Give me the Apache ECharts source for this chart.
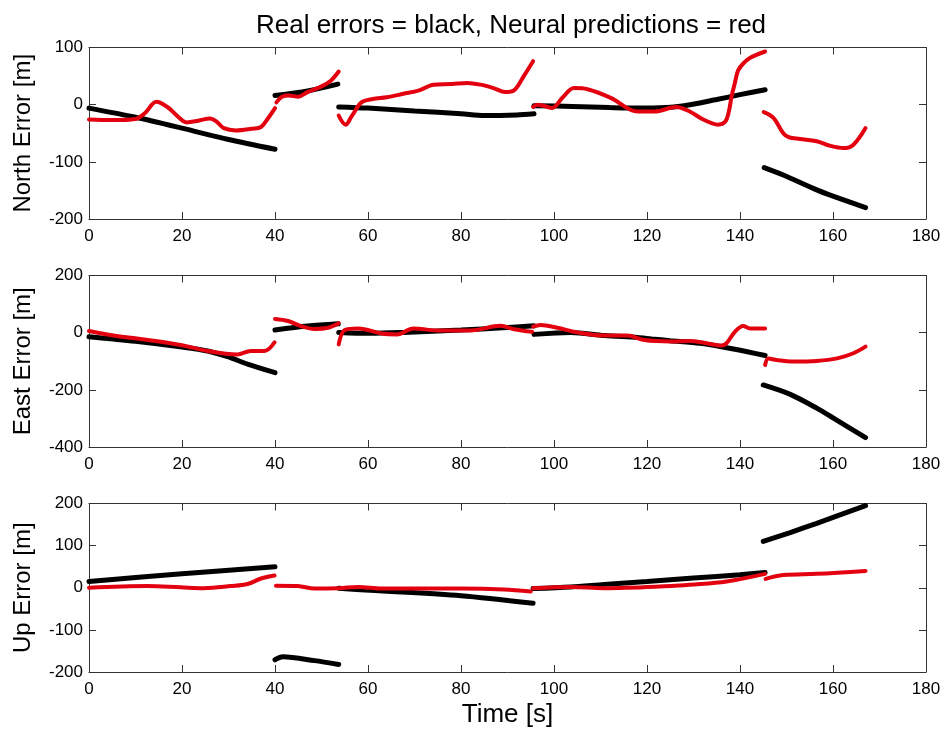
<!DOCTYPE html>
<html>
<head>
<meta charset="utf-8">
<script src="https://cdn.jsdelivr.net/npm/echarts@6/dist/echarts.min.js"></script>
<style>html,body{margin:0;padding:0;background:#fff}#c{width:944px;height:729px}</style>
</head>
<body>
<div id="c"></div>
<script>
// ---- data: each array is a list of segments, each segment a list of [time, value] ----
var titleText = 'Real errors = black, Neural predictions = red';
var panelNames = ['North Error [m]', 'East Error [m]', 'Up Error [m]'];
var xTicks = [0, 20, 40, 60, 80, 100, 120, 140, 160, 180];
var yRanges = [[-200, 100, 100], [-400, 200, 200], [-200, 200, 100]];

var northReal = [
  [[0,-6],[10,-22],[20,-41],[30,-61],[40,-78]],
  [[40,16],[47,24],[53.5,36]],
  [[53.7,-4],[60,-6],[70,-11],[80,-16],[85,-19],[92,-18],[95.7,-16]],
  [[95.7,-2],[104,-3],[112,-5],[118,-6],[124,-5],[128,-2],[135,9],[140,17.5],[145.4,26]],
  [[145.2,-110],[149.3,-123],[156.5,-149],[160,-160],[167,-180]]
];
var northPred = [
  [[0,-26],[5,-27],[10,-25],[12,-15],[14.5,5],[17,-5],[19,-20],[21,-31],[23.5,-28],[26,-24],[27.5,-30],[29,-41],[31.6,-45],[35,-42],[37,-39],[38.4,-25],[40,-6]],
  [[40.3,4],[41.5,14],[43,16],[45,14],[47,22],[50,32],[52,42],[53.7,58]],
  [[53.7,-19],[55.2,-35],[56.5,-20],[58.6,4],[61,10],[64,13],[67.6,19],[71,25],[74.1,35],[78,36],[81.3,38],[84.2,35],[87,29],[89.5,22],[91.4,25],[93.5,50],[95.5,76]],
  [[95.5,-4],[96.4,0],[97.8,-2],[99.6,-6],[101.8,12],[104.3,29],[107.2,27],[112.2,12],[118,-12],[121.6,-12],[126.3,-4],[129.2,-12],[132.1,-26],[135.3,-35],[136.8,-30],[137.6,-12],[138.2,15],[138.9,38],[139.6,60],[140.7,72],[142.2,82],[145.4,93]],
  [[145.1,-13],[147.2,-23],[149.3,-50],[150.5,-57],[152.9,-60],[156.5,-64],[159.4,-72],[162.3,-76],[164.4,-70],[167,-41]]
];
var eastReal = [
  [[0,-14],[10,-30],[20,-50],[25.5,-64],[29.8,-84],[34.1,-110],[40,-140]],
  [[40,9],[47,23],[53.6,31]],
  [[53.7,1],[60.4,-2],[67.6,1],[80,9],[89,17],[95.7,24]],
  [[95.7,-6],[103.6,1],[110.8,-10],[118,-17],[121,-22],[125,-28],[131.4,-37],[138.6,-57],[145.4,-80]],
  [[145,-183],[150.8,-216],[156.5,-264],[160.1,-299],[167,-367]]
];
var eastPred = [
  [[0,6],[5.3,-10],[11,-22],[19.7,-43],[25.5,-64],[31.9,-76],[34.8,-64],[37.7,-64],[39.9,-34]],
  [[40,48],[42.8,41],[45.6,23],[48.5,13],[51.4,17],[53.7,33]],
  [[53.7,-41],[55,9],[57.9,15],[63,-3],[66.2,-6],[69.8,15],[74.8,8],[82,8],[88.5,24],[91.4,12],[95.3,3]],
  [[95.5,21],[97.1,27],[100.7,17],[105,1],[110.8,-10],[115.8,-10],[119.4,-26],[125.2,-31],[129.2,-29],[132.8,-37],[136,-45],[137.1,-37],[138.9,3],[140.7,23],[142.2,15],[145.4,15]],
  [[145.4,-113],[146.1,-90],[147.9,-96],[151.5,-101],[156.5,-99],[160.9,-90],[164.4,-72],[167,-49]]
];
var upReal = [
  [[0,15],[20,33],[40,50]],
  [[40,-171],[41.7,-164],[48.5,-173],[53.7,-182]],
  [[53.7,-1],[60.4,-6],[80,-19],[95.5,-37]],
  [[95.5,-2],[103.6,2],[110.8,8],[120,15],[130,23],[140,31],[145.4,36]],
  [[145,110],[150.8,131],[156.5,153],[167,195]]
];
var upPred = [
  [[0,0],[12.5,4],[19.7,1],[24.7,-1],[30.5,4],[34.1,9],[37,22],[39.9,29]],
  [[40.2,5],[44.9,4],[48.5,-2],[53.7,-1],[57.9,2],[63,-2],[80,-2],[89.2,-4],[95,-9]],
  [[95.5,-1],[103.6,2],[110.8,-1],[125.2,4],[129.2,7],[137.1,15],[145.4,33]],
  [[145.5,21],[149.3,30],[156.5,33],[167,40]]
];

// ---- chart ----
var FONT = '"Liberation Sans", Arial, Helvetica, sans-serif';
var AXC = '#333';
var gridTops = [47.5, 275.5, 503.5];
var gridH = 171.5;
var realSets = [northReal, eastReal, upReal];
var predSets = [northPred, eastPred, upPred];

function axisLine() { return { show: true, onZero: false, lineStyle: { color: AXC, width: 1 } }; }
function tick() { return { show: true, inside: true, length: 7, lineStyle: { color: AXC } }; }

var grids = [], xAxes = [], yAxes = [], series = [];
for (var i = 0; i < 3; i++) {
  grids.push({ left: 89, right: 18, top: gridTops[i], height: gridH, containLabel: false });
  xAxes.push({
    type: 'value', gridIndex: i, min: xTicks[0], max: xTicks[xTicks.length - 1], interval: 20,
    position: 'bottom', axisLine: axisLine(), axisTick: tick(), splitLine: { show: false },
    axisLabel: { show: true, color: '#000', fontFamily: FONT, fontSize: 17, margin: 9 },
    name: i === 2 ? 'Time [s]' : '', nameLocation: 'middle', nameGap: 30,
    nameTextStyle: { color: '#000', fontFamily: FONT, fontSize: 26 }
  });
  xAxes.push({
    type: 'value', gridIndex: i, min: xTicks[0], max: xTicks[xTicks.length - 1], interval: 20,
    position: 'top', axisLine: axisLine(), axisTick: tick(), splitLine: { show: false },
    axisLabel: { show: false }
  });
  yAxes.push({
    type: 'value', gridIndex: i, min: yRanges[i][0], max: yRanges[i][1], interval: yRanges[i][2],
    position: 'left', axisLine: axisLine(), axisTick: tick(), splitLine: { show: false },
    axisLabel: { show: true, color: '#000', fontFamily: FONT, fontSize: 17, margin: 6 },
    name: panelNames[i], nameLocation: 'middle', nameGap: 54, nameRotate: 90,
    nameTextStyle: { color: '#000', fontFamily: FONT, fontSize: 24 }
  });
  yAxes.push({
    type: 'value', gridIndex: i, min: yRanges[i][0], max: yRanges[i][1], interval: yRanges[i][2],
    position: 'right', axisLine: axisLine(), axisTick: tick(), splitLine: { show: false },
    axisLabel: { show: false }
  });

  realSets[i].forEach(function (seg) {
    series.push({
      type: 'line', xAxisIndex: 2 * i, yAxisIndex: 2 * i, data: seg,
      showSymbol: false, smooth: 0.3, z: 2, silent: true,
      lineStyle: { color: '#000', width: 5, cap: 'round' }
    });
  });
  predSets[i].forEach(function (seg) {
    series.push({
      type: 'line', xAxisIndex: 2 * i, yAxisIndex: 2 * i, data: seg,
      showSymbol: false, smooth: 0.35, z: 3, silent: true,
      lineStyle: { color: '#e3000f', width: 4, cap: 'round' }
    });
  });
}

var chart = echarts.init(document.getElementById('c'), null, { renderer: 'canvas' });
chart.setOption({
  backgroundColor: '#fff',
  animation: false,
  title: {
    text: titleText, left: 506, top: 8, textAlign: 'center',
    textStyle: { color: '#000', fontFamily: FONT, fontSize: 26, fontWeight: 'normal' }
  },
  grid: grids, xAxis: xAxes, yAxis: yAxes, series: series
});
</script>
</body>
</html>
